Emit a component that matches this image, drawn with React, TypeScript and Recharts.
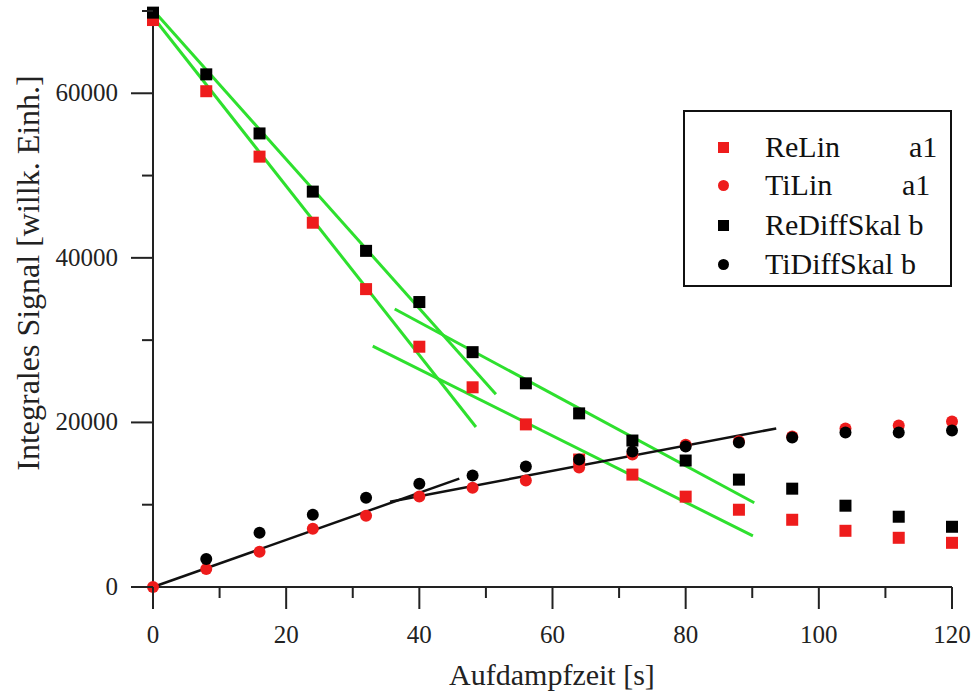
import React from 'react';
import { ComposedChart, Scatter, Line, XAxis, YAxis } from 'recharts';

// Aufdampfzeit [s]
const times = [0, 8, 16, 24, 32, 40, 48, 56, 64, 72, 80, 88, 96, 104, 112, 120];

const reLin = [68900, 60250, 52300, 44270, 36200, 29200, 24270, 19760, 15490, 13660, 10980, 9390, 8170, 6830, 5980, 5370];
const tiLin = [0, 2200, 4270, 7070, 8660, 11000, 12070, 12930, 14510, 16100, 17300, 17700, 18290, 19270, 19630, 20120];
const reDiffSkal = [69800, 62300, 55120, 48050, 40850, 34630, 28540, 24750, 21100, 17800, 15370, 13050, 11950, 9880, 8540, 7320];
const tiDiffSkal = [null, 3410, 6590, 8780, 10850, 12560, 13540, 14630, 15490, 16460, 17070, 17560, 18170, 18780, 18780, 19020];

// fit lines, [x, y] end points
const fitReDiffSteep = [[0, 70120], [51.5, 23410]];
const fitReLinSteep = [[0, 69270], [48.5, 19450]];
const fitReDiffFlat = [[36.3, 33780], [90.3, 10240]];
const fitReLinFlat = [[33.0, 29270], [90.1, 6220]];
const fitTiSteep = [[0, 0], [46.0, 13170]];
const fitTiFlat = [[35.6, 10370], [93.6, 19270]];

const xTicks = [0, 10, 20, 30, 40, 50, 60, 70, 80, 90, 100, 110, 120];
const yTicks = [0, 10000, 20000, 30000, 40000, 50000, 60000, 70000];

const FONT = '"Liberation Serif", "Times New Roman", serif';
const RED = '#ee1c1c';
const GREEN = '#2ee02e';
const AXIS = '#222';

const toPoints = (vals: (number | null)[]) =>
  times.map((t, i) => ({ x: t, y: vals[i] })).filter((p) => p.y !== null);
const toLine = (pts: number[][]) => pts.map(([x, y]) => ({ x, y }));

const Square = (color: string) => (props: any) => (
  <rect x={props.cx - 6} y={props.cy - 6} width={12} height={12} fill={color} />
);
const Dot = (color: string) => (props: any) => (
  <circle cx={props.cx} cy={props.cy} r={6} fill={color} />
);

const XTick = (props: any) => {
  const { x, y, payload } = props;
  const major = payload.value % 20 === 0;
  return (
    <g>
      <line x1={x} x2={x} y1={y} y2={y + (major ? 22 : 11)} stroke={AXIS} strokeWidth={2} />
      {major && (
        <text x={x} y={y + 56} textAnchor="middle" fontSize={25} fontFamily={FONT} fill={AXIS}>
          {payload.value}
        </text>
      )}
    </g>
  );
};

const YTick = (props: any) => {
  const { x, y, payload } = props;
  const major = payload.value % 20000 === 0;
  return (
    <g>
      <line x1={x - (major ? 22 : 11)} x2={x} y1={y} y2={y} stroke={AXIS} strokeWidth={2} />
      {major && (
        <text x={x - 35} y={y + 8} textAnchor="end" fontSize={25} fontFamily={FONT} fill={AXIS}>
          {payload.value}
        </text>
      )}
    </g>
  );
};

const legendRows = [
  { name: 'ReLin', suffix: 'a1', suffixLeft: 224, marker: 'square', color: RED },
  { name: 'TiLin', suffix: 'a1', suffixLeft: 217, marker: 'circle', color: RED },
  { name: 'ReDiffSkal b', suffix: '', suffixLeft: 0, marker: 'square', color: '#000' },
  { name: 'TiDiffSkal b', suffix: '', suffixLeft: 0, marker: 'circle', color: '#000' },
];
const legendRowY = [35, 73, 113, 152];

export default function App() {
  const fits = [
    { pts: fitReDiffSteep, color: GREEN, w: 3 },
    { pts: fitReLinSteep, color: GREEN, w: 3 },
    { pts: fitReDiffFlat, color: GREEN, w: 3 },
    { pts: fitReLinFlat, color: GREEN, w: 3 },
    { pts: fitTiSteep, color: '#111', w: 2.5 },
    { pts: fitTiFlat, color: '#111', w: 2.5 },
  ];

  return (
    <div style={{ position: 'absolute', left: 0, top: 0, width: 976, height: 691, background: '#fff' }}>
      <ComposedChart width={976} height={691} margin={{ top: 10, right: 24, left: 0, bottom: 0 }}>
        <XAxis
          type="number"
          dataKey="x"
          domain={[0, 120]}
          ticks={xTicks}
          interval={0}
          height={104}
          tickSize={0}
          tickMargin={0}
          tickLine={false}
          tick={<XTick />}
          axisLine={{ stroke: AXIS, strokeWidth: 2 }}
          label={() => (
            <text x={552} y={685} textAnchor="middle" fontSize={30} fontFamily={FONT} fill={AXIS}>
              Aufdampfzeit [s]
            </text>
          )}
        />
        <YAxis
          type="number"
          dataKey="y"
          domain={[0, 70000]}
          ticks={yTicks}
          interval={0}
          width={153}
          tickSize={0}
          tickMargin={0}
          tickLine={false}
          tick={<YTick />}
          axisLine={{ stroke: AXIS, strokeWidth: 2 }}
          label={() => (
            <text
              x={28}
              y={273}
              transform="rotate(-90 28 273)"
              textAnchor="middle"
              dominantBaseline="central"
              fontSize={32}
              fontFamily={FONT}
              fill={AXIS}
            >
              Integrales Signal [willk. Einh.]
            </text>
          )}
        />
        <Scatter data={toPoints(reLin)} shape={Square(RED)} isAnimationActive={false} />
        <Scatter data={toPoints(tiLin)} shape={Dot(RED)} isAnimationActive={false} />
        <Scatter data={toPoints(reDiffSkal)} shape={Square('#000')} isAnimationActive={false} />
        <Scatter data={toPoints(tiDiffSkal)} shape={Dot('#000')} isAnimationActive={false} />
        {fits.map((f, i) => (
          <Line
            key={i}
            data={toLine(f.pts)}
            dataKey="y"
            type="linear"
            stroke={f.color}
            strokeWidth={f.w}
            dot={false}
            activeDot={false}
            isAnimationActive={false}
          />
        ))}
      </ComposedChart>
      <div
        style={{
          position: 'absolute',
          left: 683,
          top: 110,
          width: 269,
          height: 177,
          boxSizing: 'border-box',
          border: '2px solid #111',
          background: '#fff',
          fontFamily: FONT,
          fontSize: 30,
          color: '#111',
        }}
      >
        {legendRows.map((r, i) => (
          <div key={r.name} style={{ position: 'absolute', left: 0, top: legendRowY[i] - 20, width: '100%', height: 40 }}>
            {r.marker === 'square' ? (
              <div style={{ position: 'absolute', left: 33, top: 15, width: 11, height: 11, background: r.color }} />
            ) : (
              <div style={{ position: 'absolute', left: 33, top: 15, width: 11, height: 11, borderRadius: '50%', background: r.color }} />
            )}
            <span style={{ position: 'absolute', left: 80, top: 0, lineHeight: '40px', whiteSpace: 'nowrap' }}>{r.name}</span>
            {r.suffix && (
              <span style={{ position: 'absolute', left: r.suffixLeft, top: 0, lineHeight: '40px' }}>{r.suffix}</span>
            )}
          </div>
        ))}
      </div>
    </div>
  );
}
